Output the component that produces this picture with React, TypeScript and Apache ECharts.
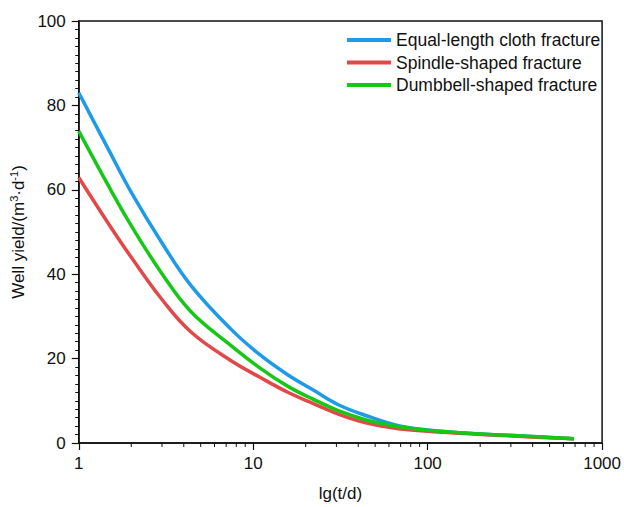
import React, { useEffect, useRef } from "react";
import * as echarts from "echarts";

const tValues = [1, 1.5, 2, 3, 4.4, 7.4, 11, 16, 22, 31, 45, 68, 100, 190, 370, 690];
const equalLength = [83.0, 69.1, 59.4, 47.4, 37.3, 27.1, 20.8, 16.0, 12.6, 9.0, 6.4, 4.1, 3.1, 2.2, 1.6, 1.0];
const spindle = [62.9, 51.6, 44.0, 34.0, 26.3, 19.6, 15.5, 11.9, 9.4, 6.8, 4.7, 3.4, 2.8, 2.1, 1.5, 1.0];
const dumbbell = [73.9, 60.5, 51.5, 40.1, 31.1, 23.2, 17.7, 13.3, 10.4, 7.6, 5.4, 3.9, 3.0, 2.2, 1.6, 1.0];
const seriesNames = ["Equal-length cloth fracture", "Spindle-shaped fracture", "Dumbbell-shaped fracture"];
const seriesColors = ["#1E9BE8", "#E34848", "#16C816"];
const xMinorTicks = [2, 3, 4, 5, 6, 7, 8, 9, 20, 30, 40, 50, 60, 70, 80, 90, 200, 300, 400, 500, 600, 700, 800, 900];

const FONT = "Liberation Sans, Arial, sans-serif";

export default function App() {
  const ref = useRef<HTMLDivElement>(null);
  useEffect(() => {
    if (!ref.current) return;
    const chart = echarts.init(ref.current, null, { renderer: "svg" });
    const dataSets = [equalLength, spindle, dumbbell];
    chart.setOption({
      animation: false,
      backgroundColor: "#fff",
      grid: { left: 77, right: 20, top: 21, bottom: 62, show: true, borderColor: "#111", borderWidth: 1.5, backgroundColor: "transparent" },
      legend: {
        orient: "vertical",
        left: 342,
        top: 25,
        itemWidth: 44,
        itemHeight: 4,
        itemGap: 2.5,
        icon: "rect",
        textStyle: { fontFamily: FONT, fontSize: 17.5, lineHeight: 20, color: "#111" },
        data: seriesNames,
      },
      xAxis: {
        type: "log",
        logBase: 10,
        min: 1,
        max: 1000,
        name: "lg(t/d)",
        nameLocation: "middle",
        nameGap: 42,
        nameTextStyle: { fontFamily: FONT, fontSize: 17, color: "#111" },
        axisLine: { show: true, lineStyle: { color: "#111", width: 1.5 } },
        axisTick: { show: true, inside: false, length: 7, lineStyle: { color: "#111", width: 1.2 } },
        minorTick: { show: false },
        splitLine: { show: false },
        axisLabel: { fontFamily: FONT, fontSize: 17, color: "#111", margin: 12, formatter: (v: number) => String(v) },
      },
      yAxis: {
        type: "value",
        min: 0,
        max: 100,
        interval: 20,
        name: "Well yield/(m{sup|3}·d{sup|-1})",
        nameLocation: "middle",
        nameGap: 45,
        nameRotate: 90,
        nameTextStyle: {
          fontFamily: FONT,
          fontSize: 17,
          color: "#111",
          rich: {
            sup: { fontFamily: FONT, fontSize: 11, verticalAlign: "top", padding: [0, 0, 9, 0], color: "#111" },
          },
        },
        axisLine: { show: true, lineStyle: { color: "#111", width: 1.5 } },
        axisTick: { show: true, inside: false, length: 7, lineStyle: { color: "#111", width: 1.2 } },
        minorTick: { show: true, splitNumber: 10, length: 3.5, lineStyle: { color: "#111", width: 1 } },
        splitLine: { show: false },
        axisLabel: { fontFamily: FONT, fontSize: 17, color: "#111", margin: 13 },
      },
      series: seriesNames.map((name, i) => ({
        name,
        type: "line",
        smooth: 0.4,
        showSymbol: false,
        symbol: "none",
        color: seriesColors[i],
        lineStyle: { width: 3.5, color: seriesColors[i] },
        data: tValues.map((t, j) => [t, dataSets[i][j]]),
      })),
    });
    const y0 = chart.convertToPixel({ yAxisIndex: 0 }, 0) as number;
    const ticks = xMinorTicks.map((v) => {
      const x = chart.convertToPixel({ xAxisIndex: 0 }, v) as number;
      return {
        type: "line",
        shape: { x1: x, y1: y0, x2: x, y2: y0 + 4 },
        style: { stroke: "#111", lineWidth: 1 },
        silent: true,
      };
    });
    chart.setOption({ graphic: ticks });
    return () => chart.dispose();
  }, []);
  return <div ref={ref} style={{ width: 624, height: 507, position: "absolute", left: 0, top: 0 }} />;
}
